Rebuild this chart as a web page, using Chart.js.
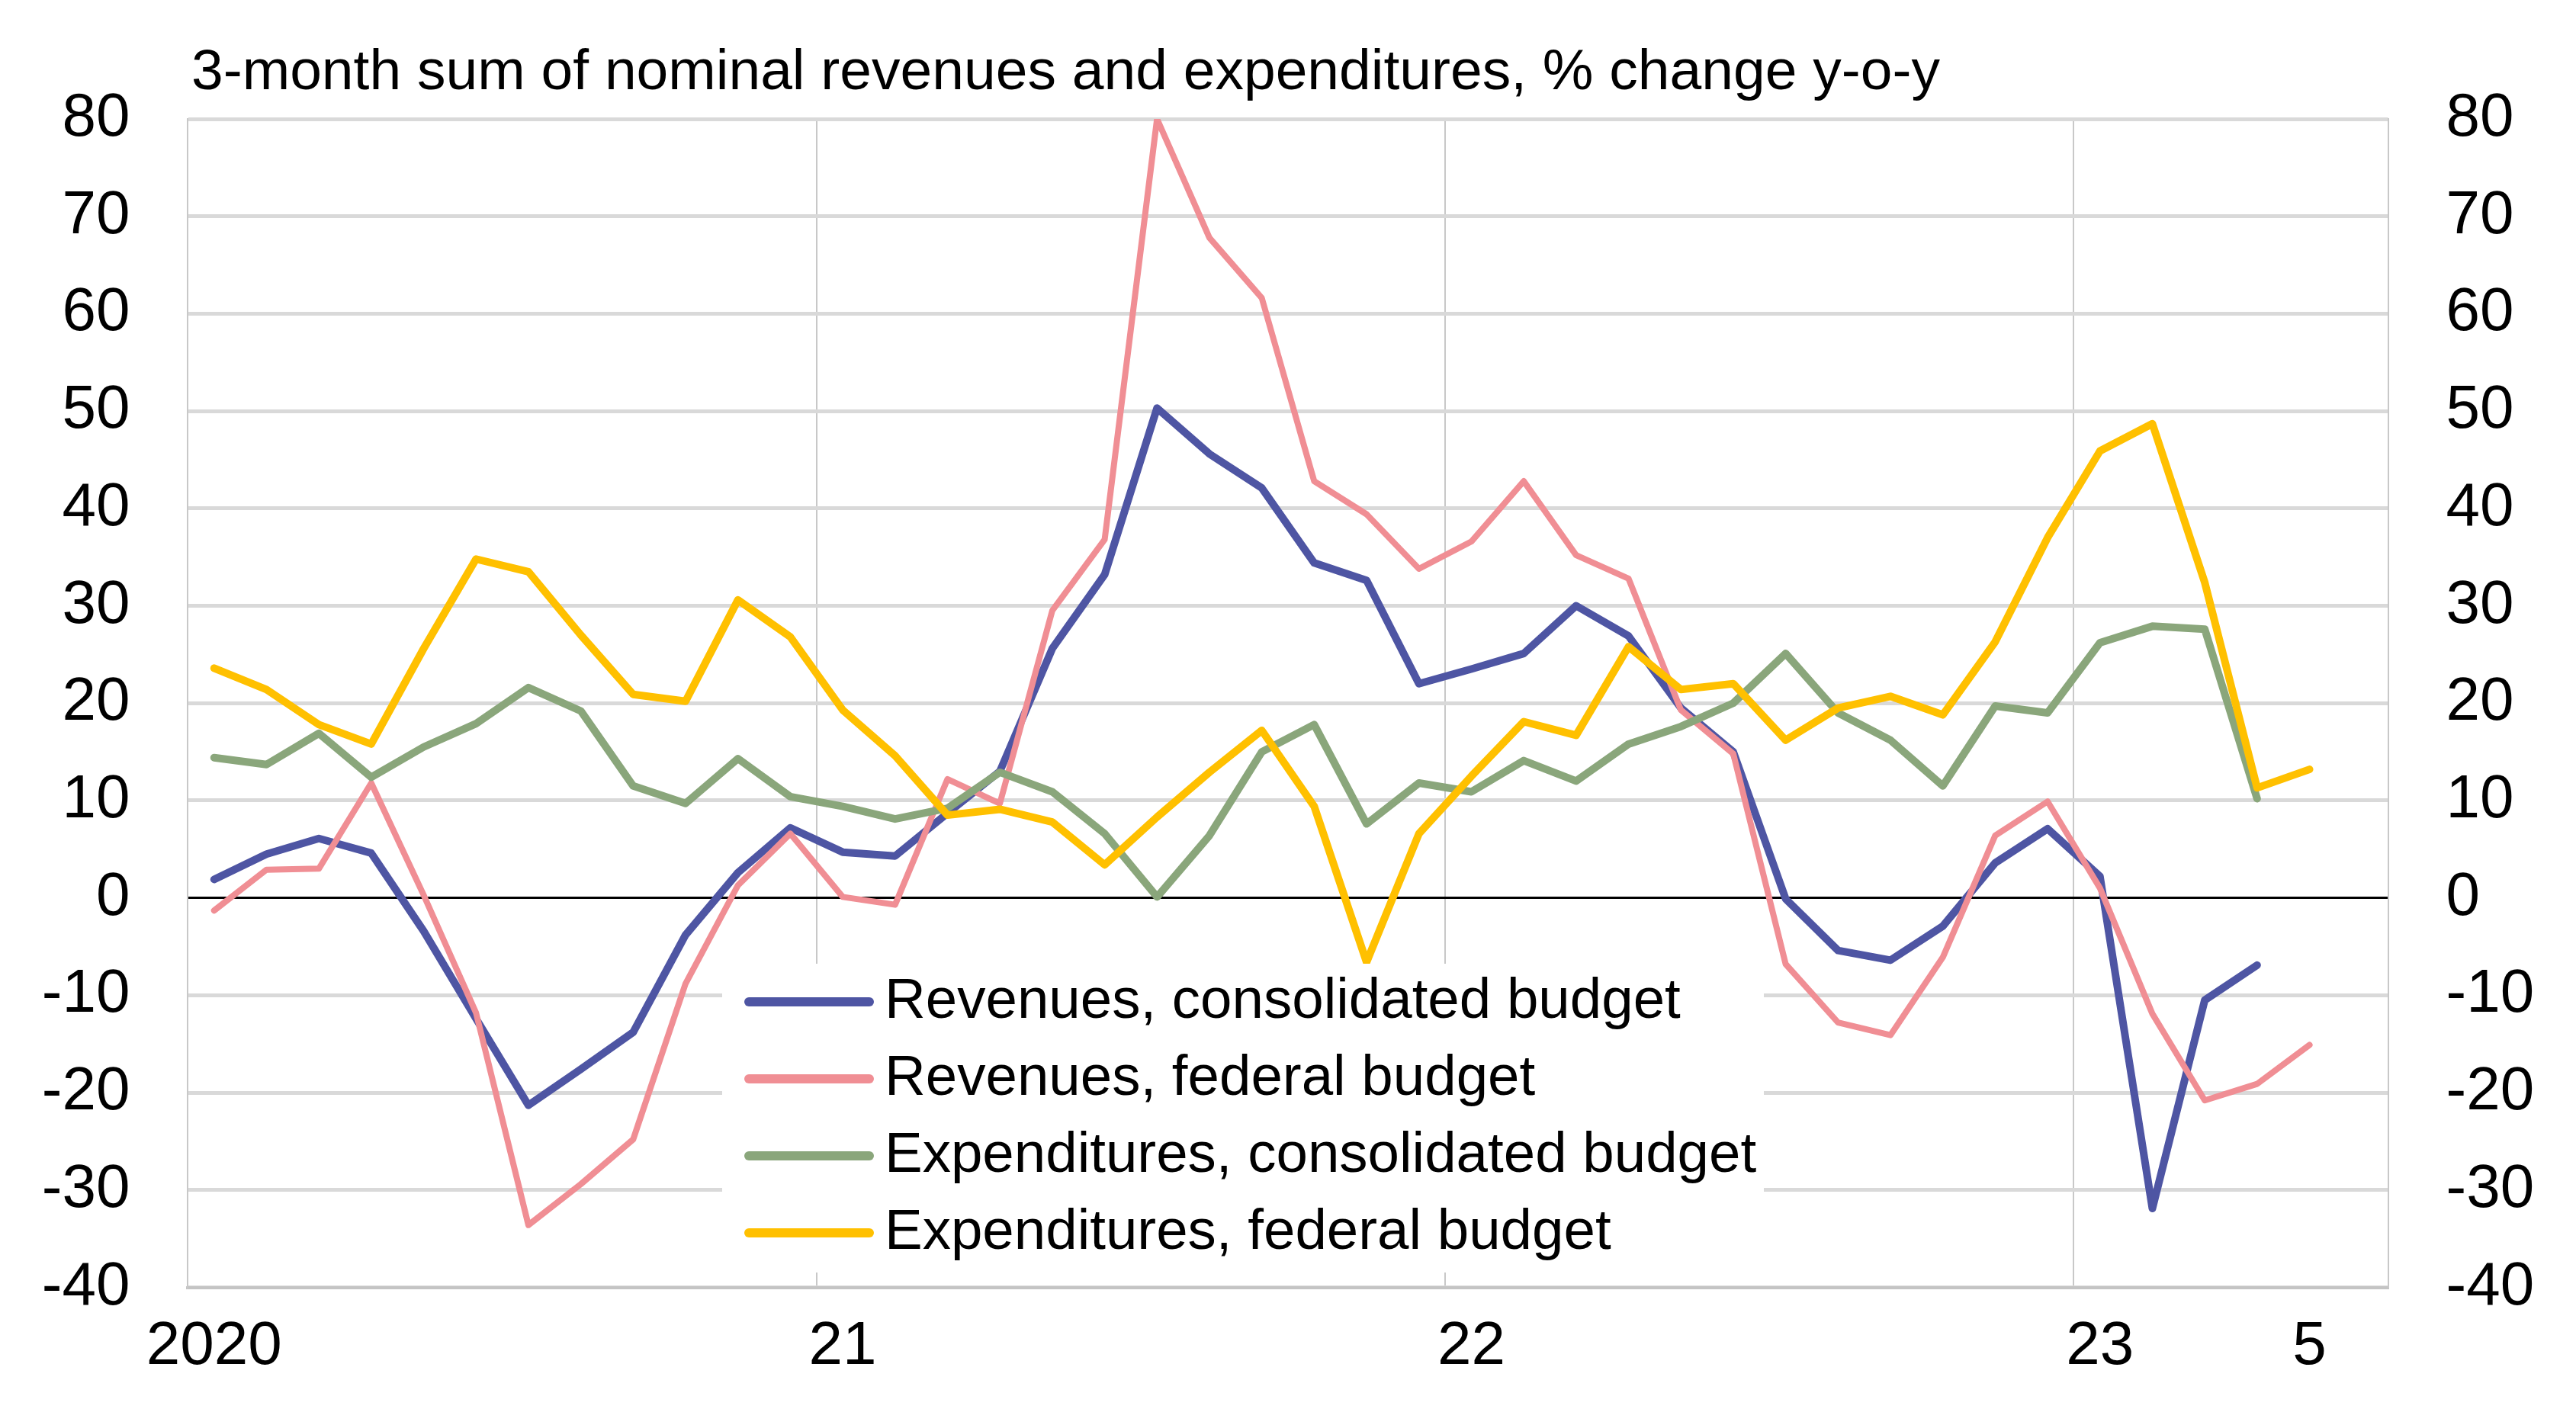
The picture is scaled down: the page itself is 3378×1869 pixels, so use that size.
<!DOCTYPE html>
<html>
<head>
<meta charset="utf-8">
<script src="https://cdn.jsdelivr.net/npm/chart.js@4.4.0/dist/chart.umd.min.js"></script>
<style>
html,body{margin:0;padding:0;background:#ffffff;}
#wrap{width:3378px;height:1869px;position:relative;}
</style>
</head>
<body>
<div id="wrap"><canvas id="c" width="3378" height="1869"></canvas></div>
<script>
// ---------------- DATA ----------------
const titleText = '3-month sum of nominal revenues and expenditures, % change y-o-y';

const categories = [
  'Jan 2020','Feb 2020','Mar 2020','Apr 2020','May 2020','Jun 2020','Jul 2020','Aug 2020','Sep 2020','Oct 2020','Nov 2020','Dec 2020',
  'Jan 2021','Feb 2021','Mar 2021','Apr 2021','May 2021','Jun 2021','Jul 2021','Aug 2021','Sep 2021','Oct 2021','Nov 2021','Dec 2021',
  'Jan 2022','Feb 2022','Mar 2022','Apr 2022','May 2022','Jun 2022','Jul 2022','Aug 2022','Sep 2022','Oct 2022','Nov 2022','Dec 2022',
  'Jan 2023','Feb 2023','Mar 2023','Apr 2023','May 2023','Jun 2023'
];

const xTickLabels = [
  '2020','','','','','','','','','','','',
  '21','','','','','','','','','','','',
  '22','','','','','','','','','','','',
  '23','','','','5',''
];

const yTicks = [80, 70, 60, 50, 40, 30, 20, 10, 0, -10, -20, -30, -40];

const seriesNames = [
  'Revenues, consolidated budget',
  'Revenues, federal budget',
  'Expenditures, consolidated budget',
  'Expenditures, federal budget'
];

const revenuesConsolidated = [
  1.9, 4.5, 6.1, 4.6, -3.4, -12.4, -21.3, -17.6, -13.8, -3.8, 2.6, 7.2,
  4.7, 4.3, 8.7, 13.0, 25.6, 33.2, 50.3, 45.6, 42.1, 34.4, 32.6, 22.0,
  23.5, 25.1, 30.0, 26.9, 19.5, 15.0, -0.1, -5.4, -6.4, -2.9, 3.6, 7.1,
  2.2, -31.9, -10.5, -6.9
];

const revenuesFederal = [
  -1.3, 2.9, 3.0, 11.8, 0.3, -11.8, -33.6, -29.4, -24.8, -8.8, 1.3, 6.6,
  0.1, -0.7, 12.2, 9.7, 29.5, 36.8, 80.0, 67.8, 61.6, 42.8, 39.4, 33.8,
  36.6, 42.8, 35.2, 32.8, 19.3, 14.8, -6.8, -12.8, -14.1, -6.1, 6.4, 9.9,
  1.0, -11.9, -20.8, -19.1, -15.1
];

const expendituresConsolidated = [
  14.4, 13.7, 16.9, 12.4, 15.5, 17.9, 21.6, 19.2, 11.5, 9.7, 14.3, 10.4,
  9.4, 8.1, 9.2, 12.9, 10.9, 6.6, 0.1, 6.4, 15.0, 17.8, 7.6, 11.8,
  10.9, 14.1, 12.0, 15.8, 17.6, 20.0, 25.1, 19.0, 16.2, 11.5, 19.7, 19.0,
  26.2, 27.9, 27.6, 10.2
];

const expendituresFederal = [
  23.6, 21.4, 17.8, 15.8, 25.6, 34.8, 33.5, 27.0, 20.9, 20.2, 30.6, 26.8,
  19.3, 14.6, 8.5, 9.1, 7.8, 3.4, 8.3, 12.9, 17.2, 9.4, -6.6, 6.6,
  12.5, 18.1, 16.7, 25.8, 21.4, 22.0, 16.2, 19.5, 20.7, 18.8, 26.3, 37.0,
  45.9, 48.7, 32.4, 11.3, 13.2
];

// ---------------- STYLE ----------------
const FONT = "'Liberation Sans', Arial, Helvetica, sans-serif";
const colors = ['#4e55a3', '#f08e94', '#8aa67b', '#ffc000'];
const widths = [10, 8, 10, 10];

// Title & legend plugin (legend drawn inside the plot on a white box)
const overlayPlugin = {
  id: 'overlay',
  afterDatasetsDraw(chart, args, opts) {
    const ctx = chart.ctx;
    ctx.save();
    ctx.fillStyle = '#ffffff';
    ctx.fillRect(opts.box.x, opts.box.y, opts.box.w, opts.box.h);
    ctx.font = opts.legendFont;
    ctx.textBaseline = 'middle';
    ctx.textAlign = 'left';
    chart.data.datasets.forEach((ds, i) => {
      const y = opts.rowY0 + i * opts.rowGap;
      ctx.strokeStyle = ds.borderColor;
      ctx.lineWidth = opts.sampleWidth;
      ctx.lineCap = 'round';
      ctx.beginPath();
      ctx.moveTo(opts.sampleX0, y);
      ctx.lineTo(opts.sampleX1, y);
      ctx.stroke();
      ctx.fillStyle = '#000000';
      ctx.fillText(ds.label, opts.textX, y);
    });
    ctx.restore();
  },
  afterDraw(chart, args, opts) {
    const ctx = chart.ctx;
    ctx.save();
    ctx.font = opts.titleFont;
    ctx.fillStyle = '#000000';
    ctx.textBaseline = 'alphabetic';
    ctx.textAlign = 'left';
    ctx.fillText(titleText, opts.titleX, opts.titleY);
    ctx.restore();
  }
};

const seriesData = [revenuesConsolidated, revenuesFederal, expendituresConsolidated, expendituresFederal];

const datasets = seriesNames.map((name, i) => ({
  label: name,
  data: seriesData[i],
  borderColor: colors[i],
  backgroundColor: colors[i],
  borderWidth: widths[i],
  pointRadius: 0,
  pointHoverRadius: 0,
  tension: 0,
  fill: false,
  borderJoinStyle: 'round',
  borderCapStyle: 'round',
  order: 4 - i,
  yAxisID: 'y'
}));

const yMin = yTicks[yTicks.length - 1];
const yMax = yTicks[0];

new Chart(document.getElementById('c'), {
  type: 'line',
  data: { labels: categories, datasets: datasets },
  plugins: [overlayPlugin],
  options: {
    responsive: false,
    animation: false,
    devicePixelRatio: 1,
    layout: { padding: { top: 156, left: 0, right: 0, bottom: 0 } },
    plugins: {
      legend: { display: false },
      title: { display: false },
      tooltip: { enabled: false },
      overlay: {
        titleFont: '75px ' + FONT,
        titleX: 251,
        titleY: 117,
        legendFont: '74.5px ' + FONT,
        box: { x: 947, y: 1264, w: 1366, h: 405 },
        rowY0: 1314,
        rowGap: 101,
        sampleX0: 982,
        sampleX1: 1140,
        sampleWidth: 12,
        textX: 1160
      }
    },
    scales: {
      x: {
        type: 'category',
        offset: true,
        afterFit(scale) { scale.height = 180.5; },
        grid: {
          offset: true,
          drawTicks: false,
          lineWidth: 2,
          color(ctx) {
            const idx = ctx.index;
            return (idx === 12 || idx === 24 || idx === 36) ? '#c8c8c8' : 'rgba(0,0,0,0)';
          }
        },
        border: { display: true, color: '#c4c4c4', width: 4 },
        ticks: {
          autoSkip: false,
          maxRotation: 0,
          minRotation: 0,
          padding: 30,
          color: '#000000',
          font: { family: FONT, size: 80 },
          callback(value, index) { return xTickLabels[index]; }
        }
      },
      y: {
        position: 'left',
        min: yMin,
        max: yMax,
        afterFit(scale) { scale.width = 246.4; },
        afterBuildTicks(scale) { scale.ticks = yTicks.map(v => ({ value: v })); },
        grid: {
          drawTicks: false,
          color(ctx) { return ctx.tick && ctx.tick.value === 0 ? '#000000' : '#d9d9d9'; },
          lineWidth(ctx) { return ctx.tick && ctx.tick.value === 0 ? 3 : 5; }
        },
        border: { display: true, color: '#c8c8c8', width: 2 },
        ticks: {
          padding: 76,
          color: '#000000',
          font: { family: FONT, size: 80 },
          callback(v) { return String(v); }
        }
      },
      y2: {
        position: 'right',
        min: yMin,
        max: yMax,
        afterFit(scale) { scale.width = 3378 - 3131.6; },
        afterBuildTicks(scale) { scale.ticks = yTicks.map(v => ({ value: v })); },
        grid: { drawOnChartArea: false, drawTicks: false },
        border: { display: true, color: '#c8c8c8', width: 2 },
        ticks: {
          padding: 76,
          color: '#000000',
          font: { family: FONT, size: 80 },
          callback(v) { return String(v); }
        }
      }
    }
  }
});
</script>
</body>
</html>
